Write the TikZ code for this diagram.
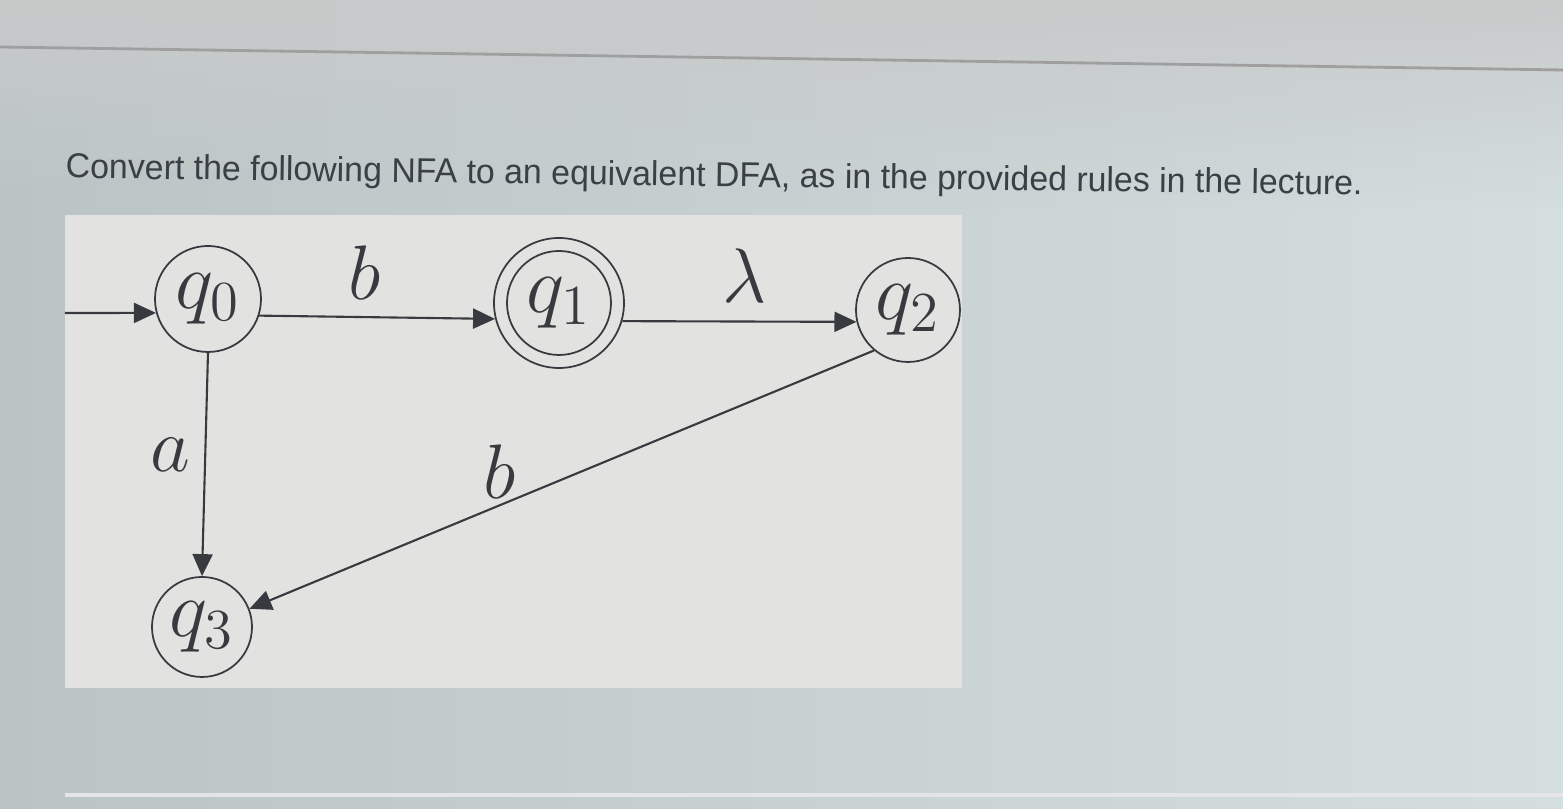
\RequirePackage{fix-cm}
\documentclass[tikz,border=0pt]{standalone}
\usepackage{fontspec}
\newfontfamily\arialf{Liberation Sans}
\usetikzlibrary{arrows.meta,calc,fadings}
\definecolor{bgleft}{RGB}{186,196,196}
\definecolor{bgright}{RGB}{212,222,222}
\definecolor{bgtop}{RGB}{200,202,202}
\definecolor{panel}{RGB}{226,227,224}
\definecolor{ink}{RGB}{55,58,62}
\definecolor{titleink}{RGB}{58,64,70}
\tikzset{
  state/.style={circle,draw=ink,line width=0.5pt,minimum size=#1,inner sep=0pt,text=ink,font=\fontsize{23}{23}\selectfont},
  edge/.style={draw=ink,line width=0.6pt,-{Triangle[length=2.2mm,width=2mm]}},
  elabel/.style={text=ink,font=\fontsize{22}{22}\selectfont,inner sep=0pt}
}
\begin{document}
\begin{tikzpicture}
\useasboundingbox (0,0) rectangle (15.63,8.09);
% background
\shade[left color=bgleft,right color=bgright] (0,0) rectangle (15.63,8.09);
\fill[bgtop,path fading=south] (0,6.0) rectangle (15.63,8.09);
\draw[gray!75,line width=0.8pt] (0,7.62) -- (15.63,7.39);
\draw[white!80!gray,line width=1pt] (0.65,0.14) -- (15.63,0.14);
% panel
\fill[panel] (0.65,1.21) rectangle (9.62,5.94);
% title
\node[anchor=base west,inner sep=0pt,rotate=-0.75,text=titleink] (title) at (0.65,6.31)
  {\resizebox{12.97cm}{0.25cm}{\arialf Convert the following NFA to an equivalent DFA, as in the provided rules in the lecture.}};
% states
\node[state=1.06cm] (q0) at (2.08,5.10) {$q_0$};
\node[state=1.30cm] (q1) at (5.59,5.06) {};
\node[state=1.04cm] (q1i) at (5.59,5.06) {$q_1$};
\node[state=1.04cm] (q2) at (9.08,4.99) {$q_2$};
\node[state=1.00cm] (q3) at (2.02,1.82) {$q_3$};
\coordinate (start) at (0.65,4.96);
% edges
\draw[edge] (start) -- (q0.195);
\draw[edge] (q0.-18) -- (q1.194);
\draw[edge] (q1.-16) -- (q2.193);
\draw[edge] (q0.south) -- (q3.north);
\draw[edge] (q2.230) -- (q3.21);
% labels
\node[elabel] (lb1) at (3.65,5.36) {$b$};
\node[elabel] (llam) at (7.45,5.33) {$\lambda$};
\node[elabel] (la) at (1.70,3.54) {$a$};
\node[elabel] (lb2) at (5.00,3.37) {$b$};
\end{tikzpicture}
\end{document}
